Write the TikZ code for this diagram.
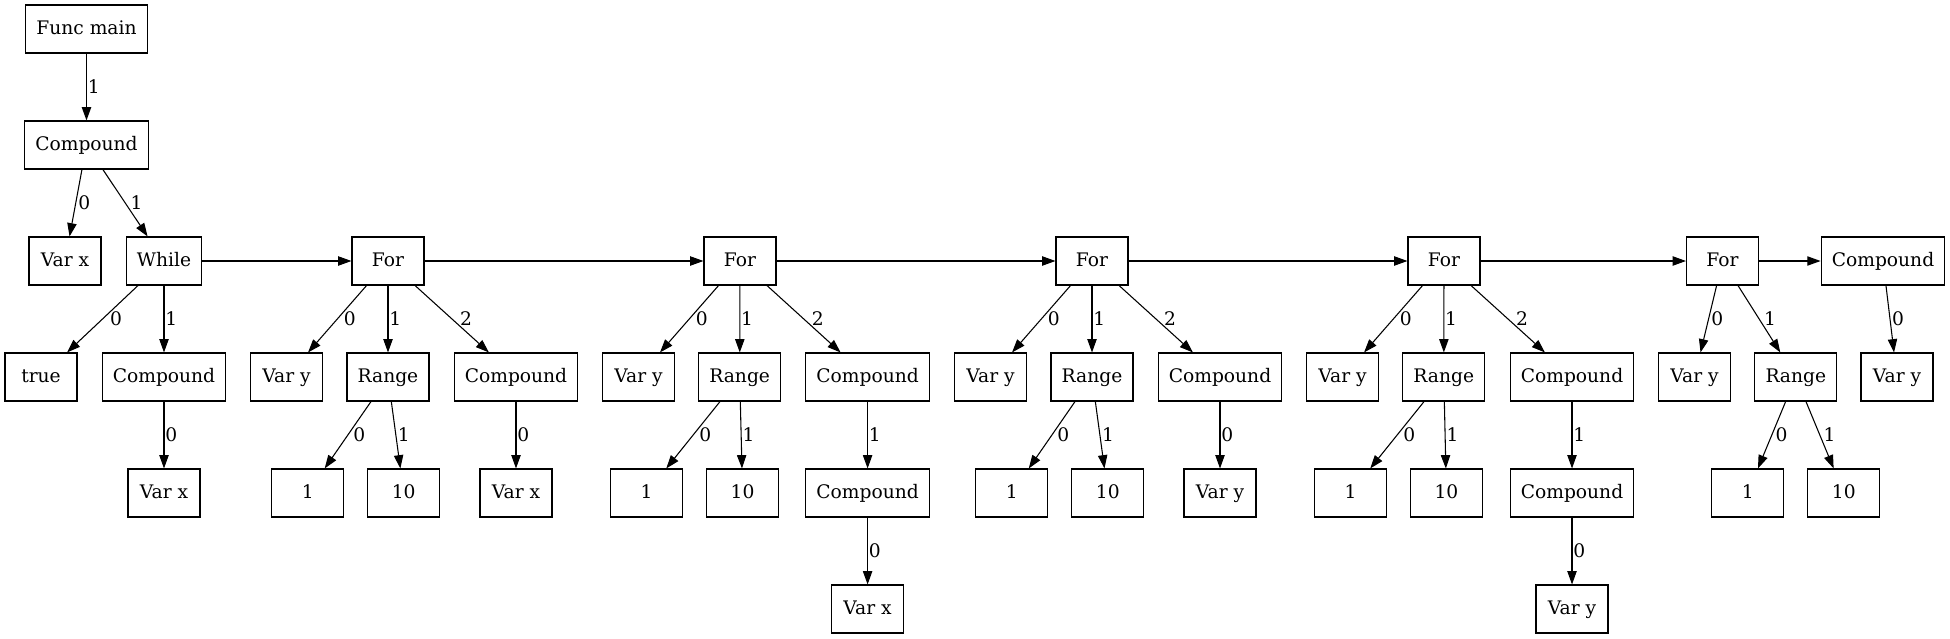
\documentclass[tikz,border=0pt]{standalone}
\usepackage{fontspec}
\setmainfont{DejaVu Serif}
\usetikzlibrary{arrows.meta}
\begin{document}
\begin{tikzpicture}[x=0.75pt,y=-0.75pt,
  box/.style={draw=black, line width=0.8pt, rectangle, minimum width=54pt, minimum height=36pt,
    inner xsep=8pt, inner ysep=0pt, text height=10.5pt, text depth=3pt,
    font=\fontsize{14pt}{16pt}\selectfont},
  e/.style={draw=black, line width=0.8pt, -{Triangle[length=10pt,width=7pt]}},
  lbl/.style={anchor=west, inner sep=0.6pt, font=\fontsize{14pt}{16pt}\selectfont}]
\useasboundingbox (0,0) rectangle (1950,639);
% row 0,1
\node[box] (fm) at (86.5,29) {Func main};
\node[box] (c0) at (86.5,145) {Compound};
% row 2
\node[box] (vx0) at (65,261) {Var x};
\node[box] (wh) at (164,261) {While};
\node[box] (f1) at (388,261) {For};
\node[box] (f2) at (740,261) {For};
\node[box] (f3) at (1092,261) {For};
\node[box] (f4) at (1444,261) {For};
\node[box] (f5) at (1722.5,261) {For};
\node[box] (cl) at (1883,261) {Compound};
% row 3
\node[box] (tru) at (41,377) {true};
\node[box] (cw) at (164,377) {Compound};
\node[box] (vy1) at (286.6,377) {Var y};
\node[box] (r1) at (388,377) {Range};
\node[box] (c1) at (516,377) {Compound};
\node[box] (vy2) at (638.5,377) {Var y};
\node[box] (r2) at (739.7,377) {Range};
\node[box] (c2) at (867.6,377) {Compound};
\node[box] (vy3) at (990.6,377) {Var y};
\node[box] (r3) at (1092,377) {Range};
\node[box] (c3) at (1220,377) {Compound};
\node[box] (vy4) at (1342.6,377) {Var y};
\node[box] (r4) at (1443.8,377) {Range};
\node[box] (c4) at (1572,377) {Compound};
\node[box] (vy5) at (1694.6,377) {Var y};
\node[box] (r5) at (1795.8,377) {Range};
\node[box] (vyl) at (1897,377) {Var y};
% row 4
\node[box] (vxw) at (164,493) {Var x};
\node[box] (o1) at (307.7,493) {1};
\node[box] (t1) at (403.7,493) {10};
\node[box] (vx1) at (516,493) {Var x};
\node[box] (o2) at (646.6,493) {1};
\node[box] (t2) at (742.6,493) {10};
\node[box] (cc2) at (867.6,493) {Compound};
\node[box] (o3) at (1011.8,493) {1};
\node[box] (t3) at (1107.8,493) {10};
\node[box] (vy3b) at (1220,493) {Var y};
\node[box] (o4) at (1350.5,493) {1};
\node[box] (t4) at (1446.4,493) {10};
\node[box] (cc4) at (1572,493) {Compound};
\node[box] (o5) at (1747.8,493) {1};
\node[box] (t5) at (1843.8,493) {10};
% row 5
\node[box] (vx2) at (867.6,609) {Var x};
\node[box] (vy4b) at (1572,609) {Var y};
% edges
\draw[e] (fm) -- node[lbl] {1} (c0);
\draw[e] (c0) -- node[lbl, xshift=0.9pt] {0} (vx0);
\draw[e] (c0) -- node[lbl, xshift=3pt] {1} (wh);
\draw[e] (wh) -- node[lbl, xshift=4.8pt] {0} (tru);
\draw[e] (wh) -- node[lbl] {1} (cw);
\draw[e] (cw) -- node[lbl] {0} (vxw);
\draw[e] (f1) -- node[lbl, xshift=3.9pt] {0} (vy1);
\draw[e] (f1) -- node[lbl] {1} (r1);
\draw[e] (f1) -- node[lbl, xshift=5pt] {2} (c1);
\draw[e] (r1) -- node[lbl, xshift=3.1pt] {0} (o1);
\draw[e] (r1) -- node[lbl, xshift=0.6pt] {1} (t1);
\draw[e] (c1) -- node[lbl] {0} (vx1);
\draw[e] (f2) -- node[lbl, xshift=3.9pt] {0} (vy2);
\draw[e] (f2) -- node[lbl] {1} (r2);
\draw[e] (f2) -- node[lbl, xshift=5pt] {2} (c2);
\draw[e] (r2) -- node[lbl, xshift=3.6pt] {0} (o2);
\draw[e] (r2) -- node[lbl, xshift=0.1pt] {1} (t2);
\draw[e] (c2) -- node[lbl] {1} (cc2);
\draw[e] (cc2) -- node[lbl] {0} (vx2);
\draw[e] (f3) -- node[lbl, xshift=3.9pt] {0} (vy3);
\draw[e] (f3) -- node[lbl] {1} (r3);
\draw[e] (f3) -- node[lbl, xshift=5pt] {2} (c3);
\draw[e] (r3) -- node[lbl, xshift=3.1pt] {0} (o3);
\draw[e] (r3) -- node[lbl, xshift=0.6pt] {1} (t3);
\draw[e] (c3) -- node[lbl] {0} (vy3b);
\draw[e] (f4) -- node[lbl, xshift=3.9pt] {0} (vy4);
\draw[e] (f4) -- node[lbl] {1} (r4);
\draw[e] (f4) -- node[lbl, xshift=5pt] {2} (c4);
\draw[e] (r4) -- node[lbl, xshift=3.6pt] {0} (o4);
\draw[e] (r4) -- node[lbl, xshift=0.1pt] {1} (t4);
\draw[e] (c4) -- node[lbl] {1} (cc4);
\draw[e] (cc4) -- node[lbl] {0} (vy4b);
\draw[e] (f5) -- node[lbl, xshift=1.1pt] {0} (vy5);
\draw[e] (f5) -- node[lbl, xshift=2.8pt] {1} (r5);
\draw[e] (r5) -- node[lbl, xshift=1.9pt] {0} (o5);
\draw[e] (r5) -- node[lbl, xshift=1.9pt] {1} (t5);
\draw[e] (cl) -- node[lbl, xshift=0.5pt] {0} (vyl);
% horizontal chain
\draw[e] (wh) -- (f1);
\draw[e] (f1) -- (f2);
\draw[e] (f2) -- (f3);
\draw[e] (f3) -- (f4);
\draw[e] (f4) -- (f5);
\draw[e] (f5) -- (cl);
\end{tikzpicture}
\end{document}
